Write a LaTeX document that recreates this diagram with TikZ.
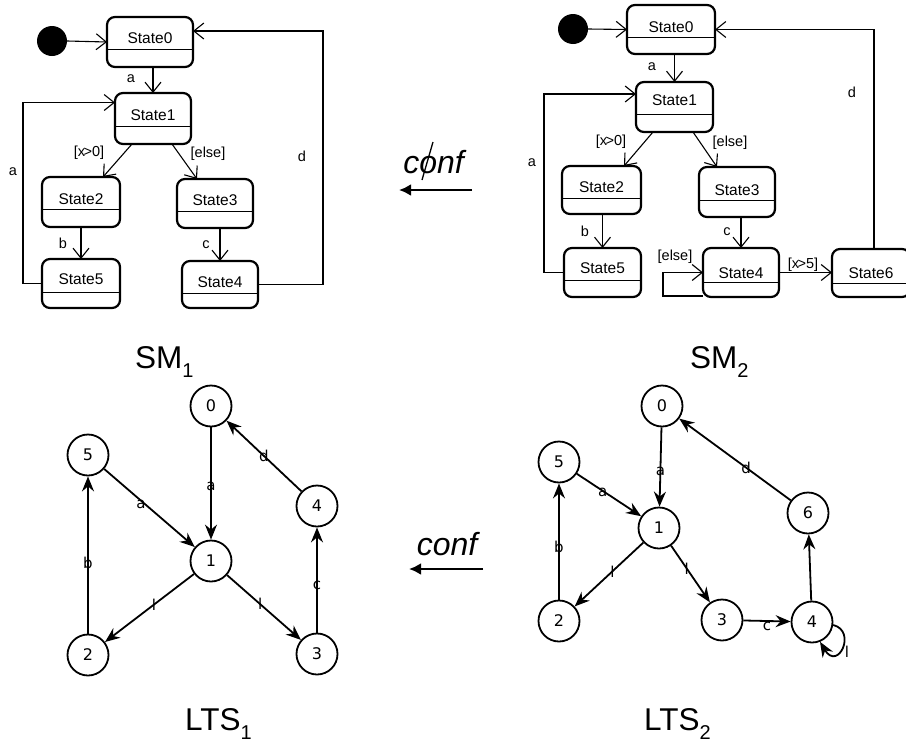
\documentclass[tikz,border=0pt]{standalone}
\usepackage{fontspec}
\setmainfont{Liberation Sans}
\newfontfamily\djv{DejaVu Sans}
\usetikzlibrary{arrows.meta}
\newcommand\stbox[8]{%
  \node[sbox, minimum width={(#4-#2)*1pt}, minimum height={(#5-#3)*1pt}] (#1) at ({(#2+#4)/2},{(#3+#5)/2}) {};
  \draw[divl] (#1.west |- 0,#6) -- (#1.east |- 0,#6);
  \node[stxt] (#1t) at ({(#2+#4)/2},#7) {#8};
}
\newcommand\subidx[1]{\raisebox{-9pt}{\fontsize{20}{20}\selectfont #1}}
\begin{document}
\begin{tikzpicture}[x=1pt,y=-1pt,
  sbox/.style={draw, line width=2.2pt, rounded corners=8pt, inner sep=0pt, outer sep=0pt},
  divl/.style={line width=0.9pt},
  stxt/.style={font=\fontsize{15.5}{16}\selectfont, inner sep=0pt},
  slab/.style={font=\fontsize{14.5}{15}\selectfont, inner sep=0pt},
  oarr/.style={line width=1.1pt, -{Straight Barb[length=10pt,width=16pt]}},
  dot/.style={circle, fill, inner sep=0pt, minimum size=30pt},
  lts/.style={circle, draw, line width=1.8pt, minimum size=41pt, inner sep=0pt, font=\djv\fontsize{16}{16}\selectfont},
  larr/.style={line width=1.8pt, -{Stealth[length=15pt,width=12pt,inset=5pt]}},
  llab/.style={font=\djv\fontsize{15}{15}\selectfont, inner sep=0pt},
  title/.style={font=\fontsize{31.5}{32}\selectfont, inner sep=0pt, anchor=base west},
  conftxt/.style={font=\itshape\fontsize{32}{32}\selectfont, inner sep=0pt, anchor=base},
  carr/.style={line width=2.6pt, -{Latex[length=12pt,width=12pt]}}]
\fill[white] (0,0) rectangle (906,742);
\useasboundingbox (0,0) rectangle (906,742);

% ---------------- SM1 ----------------
\node[dot] (ai) at (52,41) {};
\stbox{as0}{107}{17}{193}{67}{49}{38}{State0}
\stbox{as1}{115}{93}{191}{144}{126}{115}{State1}
\stbox{as2}{42}{177}{120}{227}{209}{199}{State2}
\stbox{as3}{177}{179}{253}{228}{211}{200}{State3}
\stbox{as5}{42}{259}{120}{308}{292}{279}{State5}
\stbox{as4}{182}{261}{258}{308}{293}{282}{State4}
\draw[oarr] (ai.east) -- (as0.west);
\draw[oarr] (as1.north |- as0.south) -- (as1.north);
\draw[oarr] ([xshift=-21pt]as1.south) -- ([xshift=22pt]as2.north);
\draw[oarr] ([xshift=19pt]as1.south) -- ([xshift=-18pt]as3.north);
\draw[oarr] (as2.south) -- (as5.north);
\draw[oarr] (as4.north |- as3.south) -- (as4.north);
\draw[oarr] (as5.west) -- ++(-19,0) |- ([yshift=16pt]as1.west);
\draw[oarr] (as4.east) -- ++(65,0) |- ([yshift=11pt]as0.east);
\node[slab] (al1) at (131,79) {a};
\node[slab] (al2) at (89,153) {[x\kern-1.5pt>0]};
\node[slab] (al3) at (208,154) {[else]};
\node[slab] (al4) at (63,243) {b};
\node[slab] (al5) at (206,245) {c};
\node[slab] (al6) at (13,172) {a};
\node[slab] (al7) at (302,156) {d};

% ---------------- SM2 ----------------
\node[dot] (bi) at (573,29) {};
\stbox{bs0}{627}{5}{715}{54}{37}{27}{State0}
\stbox{bs1}{636}{82}{713}{132}{114}{100}{State1}
\stbox{bs2}{562}{166}{641}{214}{198}{187}{State2}
\stbox{bs3}{699}{167}{775}{217}{200}{190}{State3}
\stbox{bs5}{564}{248}{641}{297}{280}{268}{State5}
\stbox{bs4}{703}{248}{779}{297}{282}{273}{State4}
\stbox{bs6}{832}{249}{910}{297}{283}{273}{State6}
\draw[oarr] (bi.east) -- (bs0.west);
\draw[oarr] (bs1.north |- bs0.south) -- (bs1.north);
\draw[oarr] ([xshift=-21.5pt]bs1.south) -- ([xshift=22.5pt]bs2.north);
\draw[oarr] ([xshift=18.5pt]bs1.south) -- ([xshift=-20pt]bs3.north);
\draw[oarr] (bs5.north |- bs2.south) -- (bs5.north);
\draw[oarr] (bs4.north |- bs3.south) -- (bs4.north);
\draw[oarr] (bs4.east) -- (bs6.west |- bs4.east);
\draw[oarr] ([yshift=-23.5pt]bs4.west) -- ++(-40,0) |- (bs4.west);
\draw[oarr] (bs5.west) -- ++(-20,0) |- ([yshift=13pt]bs1.west);
\draw[oarr] ([xshift=3pt]bs6.north) |- (bs0.east);
\node[slab] (bl1) at (652,67) {a};
\node[slab] (bl2) at (611,142) {[x\kern-1.5pt>0]};
\node[slab] (bl3) at (730,143) {[else]};
\node[slab] (bl4) at (585,231) {b};
\node[slab] (bl5) at (727,232) {c};
\node[slab] (bl6) at (675,257) {[else]};
\node[slab] (bl7) at (803,265) {[x\kern-1.5pt>5]};
\node[slab] (bl8) at (532,163) {a};
\node[slab] (bl9) at (852,92) {d};

% titles
\node[title] (t1) at (135,368) {SM\subidx{1}};
\node[title] (t2) at (690,368) {SM\subidx{2}};
\node[title] (t3) at (185,730) {LTS\subidx{1}};
\node[title] (t4) at (644,730) {LTS\subidx{2}};

% conf arrows
\node[conftxt] (cf1) at (433.5,173) {conf};
\coordinate (cf1a) at (433,142);
\coordinate (cf1b) at (422,180);
\draw[line width=1.3pt] (cf1a) -- (cf1b);
\coordinate (ca1) at (472,190);
\coordinate (cb1) at (399,190);
\draw[carr] (ca1) -- (cb1);
\node[conftxt] (cf2) at (447,555) {conf};
\coordinate (ca2) at (483,569);
\coordinate (cb2) at (409,569);
\draw[carr] (ca2) -- (cb2);

% ---------------- LTS1 ----------------
\node[lts] (a0) at (211,406) {0};
\node[lts] (a5) at (88,455) {5};
\node[lts] (a4) at (317,506) {4};
\node[lts] (a1) at (211,561) {1};
\node[lts] (a2) at (88,655) {2};
\node[lts] (a3) at (317,654) {3};
\draw[larr] (a0) -- node[llab, pos=0.53] {a} (a1);
\draw[larr] (a5) -- node[llab, pos=0.45, xshift=-4pt] {a} (a1);
\draw[larr] (a4) -- node[llab] {d} (a0);
\draw[larr] (a2) -- node[llab, pos=0.45] {b} (a5);
\draw[larr] (a1) -- node[llab, pos=0.45] {l} (a2);
\draw[larr] (a1) -- node[llab, pos=0.45] {l} (a3);
\draw[larr] (a3) -- node[llab, pos=0.45] {c} (a4);

% ---------------- LTS2 ----------------
\node[lts] (b0) at (662,406) {0};
\node[lts] (b5) at (559,462) {5};
\node[lts] (b1) at (659,528) {1};
\node[lts] (b6) at (808,513) {6};
\node[lts] (b2) at (559,621) {2};
\node[lts] (b3) at (722,620) {3};
\node[lts] (b4) at (812,622) {4};
\draw[larr] (b0) -- node[llab, pos=0.55] {a} (b1);
\draw[larr] (b5) -- node[llab, pos=0.45, xshift=-3pt] {a} (b1);
\draw[larr] (b6) -- node[llab, pos=0.4] {d} (b0);
\draw[larr] (b2) -- node[llab, pos=0.45] {b} (b5);
\draw[larr] (b1) -- node[llab, pos=0.45] {l} (b2);
\draw[larr] (b1) -- node[llab, pos=0.4] {l} (b3);
\draw[larr] (b3) -- node[llab, pos=0.5, yshift=-5pt] {c} (b4);
\draw[larr] (b4) -- (b6);
\draw[larr] (b4.-8) .. controls +(24,6) and +(18,30) .. (b4.-68);
\node[llab] (bl) at (847,652) {l};
\end{tikzpicture}
\end{document}
